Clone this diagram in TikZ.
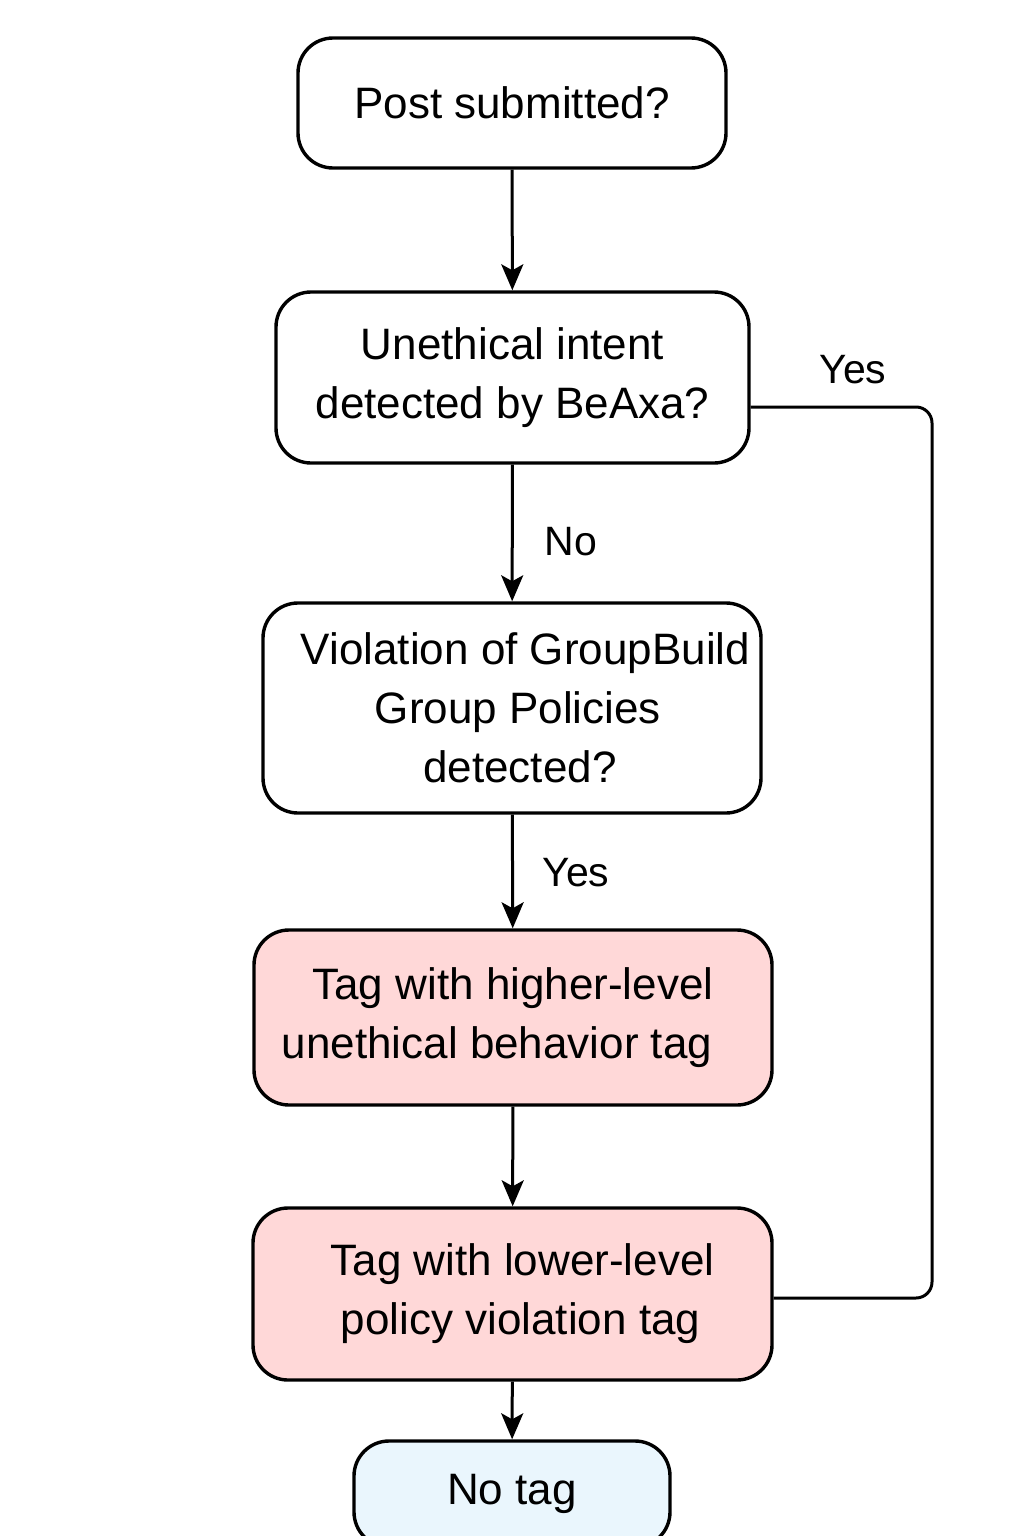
\documentclass[tikz,border=0pt]{standalone}
\usepackage{fontspec}
\setmainfont{Liberation Sans}
\usetikzlibrary{arrows.meta}
\definecolor{pinkfill}{HTML}{FFD8D8}
\definecolor{bluefill}{HTML}{EAF6FD}
\tikzset{
  box/.style={draw=black, line width=3.4pt, rounded corners=35pt, inner sep=0pt, align=center, font=\fontsize{44}{59}\selectfont, fill=white},
  flow/.style={draw=black, line width=3pt, -{Stealth[length=26pt,width=22pt,inset=6pt]}},
  loopline/.style={draw=black, line width=3pt, rounded corners=16pt},
  lbl/.style={font=\fontsize{41}{48}\selectfont, inner sep=0pt}
}
\begin{document}
\begin{tikzpicture}[x=1pt,y=-1pt]
\useasboundingbox[fill=white] (0,0) rectangle (1024,1536);
\node[box, minimum width=428pt, minimum height=130pt] (post) at (512,103) {Post submitted?};
\node[box, minimum width=473pt, minimum height=171pt] (uneth) at (512.5,377.5) {Unethical intent\\detected by BeAxa?};
\node[box, minimum width=498pt, minimum height=210pt] (viol) at (512,708) {\hspace*{27pt}Violation of GroupBuild\\\hspace*{12pt}Group Policies\\\hspace*{16pt}detected?};
\node[box, fill=pinkfill, minimum width=518pt, minimum height=175pt] (high) at (513,1017.5) {Tag with higher-level\\unethical behavior tag\hspace*{32pt}};
\node[box, fill=pinkfill, minimum width=519pt, minimum height=172pt] (low) at (512.5,1294) {\hspace*{20pt}Tag with lower-level\\\hspace*{16pt}policy violation tag};
\node[box, fill=bluefill, minimum width=316pt, minimum height=106pt] (notag) at (512,1494) {No tag};

\draw[flow] (post) -- (uneth);
\draw[flow] (uneth) -- (viol);
\node[lbl] (no1) at (571,542) {No};
\draw[flow] (viol) -- (high);
\node[lbl] (yes1) at (576,873) {Yes};
\draw[flow] (high) -- (low);
\draw[flow] (low) -- (notag);
\coordinate (c1) at (932,407);
\coordinate (c2) at (932,1298);
\draw[loopline] (uneth.east |- 0,407) -- (c1) -- (c2) -- (low.east |- 0,1298);
\node[lbl] (yes2) at (853,370) {Yes};
\end{tikzpicture}
\end{document}
